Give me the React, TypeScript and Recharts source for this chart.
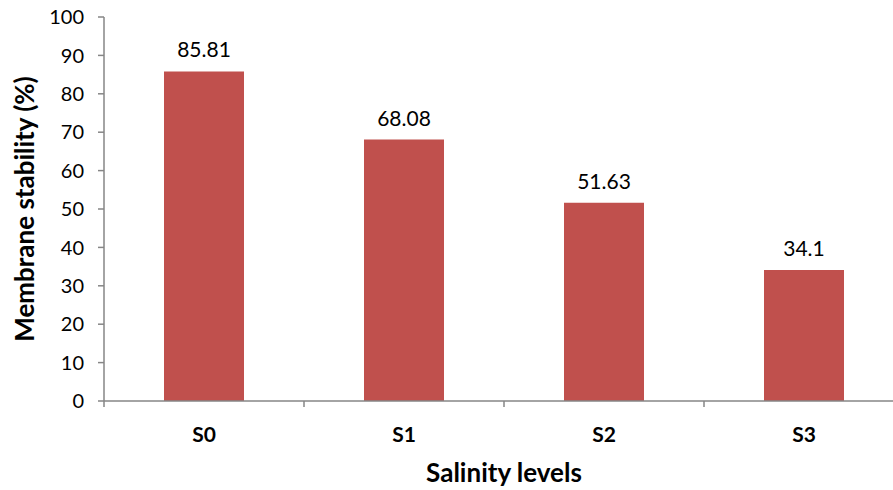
import React from 'react';
import { BarChart, Bar, XAxis, YAxis, LabelList, Label } from 'recharts';

const levels = ['S0', 'S1', 'S2', 'S3'];
const stability = [85.81, 68.08, 51.63, 34.1];
const yTicks = [0, 10, 20, 30, 40, 50, 60, 70, 80, 90, 100];

const data = levels.map((name, i) => ({ name, value: stability[i] }));

const FONT = 'Lato, "Open Sans", sans-serif';
const AXIS = '#868686';
const BAND = 200;

function CategoryTick(props: any) {
  const { x, y, payload } = props;
  return (
    <g>
      <line x1={x - BAND / 2} x2={x - BAND / 2} y1={y} y2={y + 6} stroke={AXIS} strokeWidth={1.5} />
      <text x={x} y={y + 41} textAnchor="middle"
        fontFamily={FONT} fontSize={21} fontWeight={700} fill="#000">
        {payload.value}
      </text>
    </g>
  );
}

function XTitle(props: any) {
  const { x, y, width, height } = props.viewBox;
  return (
    <text x={x + width / 2} y={y + height - 8} textAnchor="middle"
      fontFamily={FONT} fontSize={26} fontWeight={700} fill="#000">
      Salinity levels
    </text>
  );
}

function YTitle(props: any) {
  const { y, height } = props.viewBox;
  const cx = 24;
  const cy = y + height / 2;
  return (
    <text x={cx} y={cy} transform={`rotate(-90 ${cx} ${cy})`} textAnchor="middle"
      dominantBaseline="central" fontFamily={FONT} fontSize={26} fontWeight={700} fill="#000">
      Membrane stability (%)
    </text>
  );
}

export default function App() {
  return (
    <>
      <style>{'html, body { margin: 0; padding: 0; overflow: hidden; }'}</style>
      <div style={{ position: 'absolute', left: 0, top: 0, width: 893, height: 490, overflow: 'hidden', background: '#fff' }}>
        <BarChart width={912} height={490} data={data}
          margin={{ top: 17, right: 8, bottom: 0, left: 0 }} barCategoryGap={0}>
          <XAxis
            dataKey="name"
            height={89}
            axisLine={{ stroke: AXIS, strokeWidth: 1.5 }}
            tickLine={false}
            tickSize={0}
            tickMargin={0}
            tick={<CategoryTick />}
            interval={0}
          >
            <Label content={<XTitle />} />
          </XAxis>
          <YAxis
            width={104}
            domain={[0, 100]}
            ticks={yTicks}
            interval={0}
            axisLine={{ stroke: AXIS, strokeWidth: 1.5 }}
            tickLine={{ stroke: AXIS, strokeWidth: 1.5 }}
            tickSize={6}
            tickMargin={14}
            tick={{ fontFamily: FONT, fontSize: 20, fill: '#000' }}
          >
            <Label content={<YTitle />} />
          </YAxis>
          <Bar dataKey="value" fill="#C0504D" barSize={80} isAnimationActive={false}>
            <LabelList dataKey="value" position="top" offset={14}
              style={{ fontFamily: FONT, fontSize: 21, fill: '#000' }} />
          </Bar>
        </BarChart>
      </div>
    </>
  );
}
